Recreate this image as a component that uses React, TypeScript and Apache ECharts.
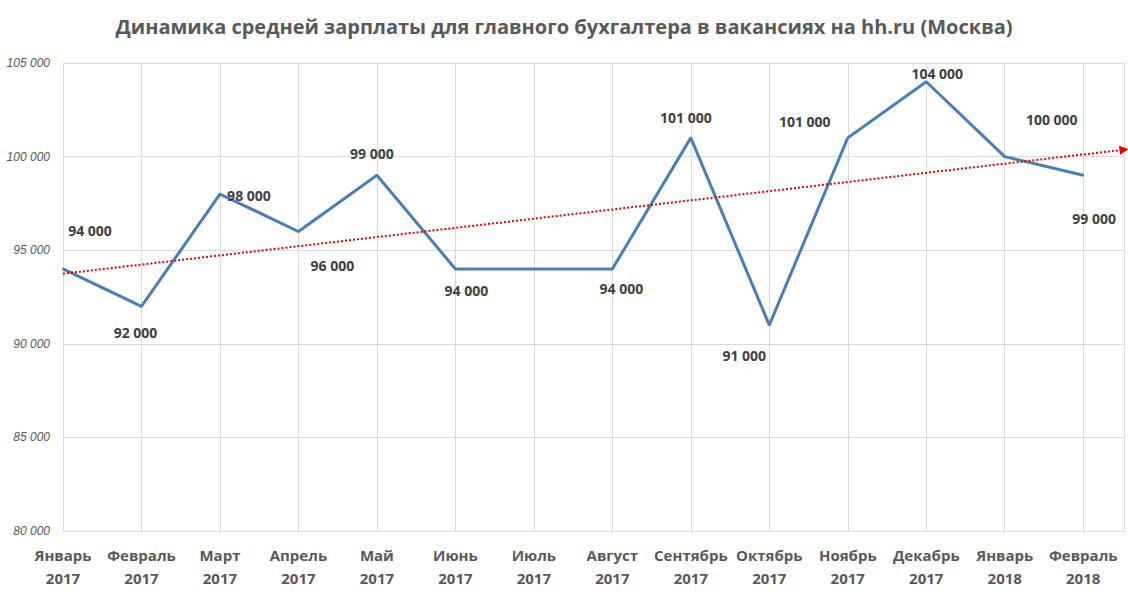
import React, { useEffect, useRef } from "react";
import * as echarts from "echarts";

const titleText = "Динамика средней зарплаты для главного бухгалтера в вакансиях на hh.ru (Москва)";
const months = ["Январь", "Февраль", "Март", "Апрель", "Май", "Июнь", "Июль", "Август", "Сентябрь", "Октябрь", "Ноябрь", "Декабрь", "Январь", "Февраль"];
const years = ["2017", "2017", "2017", "2017", "2017", "2017", "2017", "2017", "2017", "2017", "2017", "2017", "2018", "2018"];
const salaries = [94000, 92000, 98000, 96000, 99000, 94000, 94000, 94000, 101000, 91000, 101000, 104000, 100000, 99000];
const showLabel = [true, true, true, true, true, true, false, true, true, true, true, true, true, true];
const yMin = 80000;
const yMax = 105000;
const yStep = 5000;
const trendForward = 0.52; // periods of forward forecast of the trend line

// label placement (style only): pixel offsets from the point
const labelOffsets: number[][] = [
  [27, -38], [-6, 26], [29, 1], [34, 34], [-5, -22], [11, 22], [0, 0],
  [9, 20], [-5, -20], [-25, 30], [-43, -16], [11, -8], [47, -37], [11, 43],
];

const fmt = (v: number) => String(Math.round(v)).replace(/\B(?=(\d{3})+(?!\d))/g, " ");

function linearTrend(vals: number[]) {
  const n = vals.length;
  let sx = 0, sy = 0, sxy = 0, sxx = 0;
  vals.forEach((v, i) => { sx += i; sy += v; sxy += i * v; sxx += i * i; });
  const slope = (n * sxy - sx * sy) / (n * sxx - sx * sx);
  const icpt = (sy - slope * sx) / n;
  return { slope, icpt };
}

export default function App() {
  const ref = useRef<HTMLDivElement>(null);
  useEffect(() => {
    if (!ref.current) return;
    const chart = echarts.init(ref.current, null, { renderer: "svg" });
    const n = salaries.length;
    const xMax = n - 1 + trendForward;
    const { slope, icpt } = linearTrend(salaries);
    const lineColor = "#4A7EBB";
    const gridColor = "#D9D9D9";

    chart.setOption({
      animation: false,
      backgroundColor: "#FFFFFF",
      title: {
        text: titleText,
        left: "center",
        top: 11,
        textStyle: { fontFamily: "Open Sans", fontWeight: "bold", fontSize: 20, color: "#595959" },
      },
      grid: { left: 63, right: 4, top: 63, bottom: 71, containLabel: false },
      xAxis: {
        type: "value",
        min: 0,
        max: xMax,
        interval: 1,
        axisLine: { show: true, lineStyle: { color: gridColor, width: 1 } },
        axisTick: { show: false },
        splitLine: { show: true, lineStyle: { color: gridColor, width: 1 } },
        axisLabel: {
          margin: 12,
          fontFamily: "Open Sans",
          fontWeight: "bold",
          fontSize: 15,
          lineHeight: 23,
          color: "#595959",
          showMaxLabel: false,
          formatter: (v: number) => {
            const i = Math.round(v);
            if (Math.abs(v - i) > 1e-6 || i < 0 || i >= n) return "";
            return months[i] + "\n" + years[i];
          },
        },
      },
      yAxis: {
        type: "value",
        min: yMin,
        max: yMax,
        interval: yStep,
        axisLine: { show: false },
        axisTick: { show: false },
        splitLine: { show: true, lineStyle: { color: gridColor, width: 1 } },
        axisLabel: {
          margin: 13,
          fontFamily: "Liberation Sans",
          fontStyle: "italic",
          fontSize: 12,
          color: "#595959",
          formatter: (v: number) => fmt(v),
        },
      },
      series: [
        {
          type: "line",
          data: salaries.map((v, i) => ({
            value: [i, v],
            label: {
              show: showLabel[i],
              position: "inside",
              offset: labelOffsets[i],
              align: "center",
              verticalAlign: "middle",
              formatter: fmt(v),
              fontFamily: "Open Sans",
              fontWeight: "bold",
              fontSize: 14,
              color: "#404040",
            },
          })),
          symbol: "circle",
          symbolSize: 2,
          showSymbol: true,
          itemStyle: { color: lineColor },
          lineStyle: { color: lineColor, width: 3 },
          silent: true,
          z: 3,
          markLine: {
            silent: true,
            symbol: ["none", "triangle"],
            symbolSize: [9, 9],
            label: { show: false },
            lineStyle: { type: "dotted", color: "#E00000", width: 2 },
            data: [
              [
                { coord: [0, icpt] },
                { coord: [xMax, icpt + slope * xMax] },
              ],
            ],
            z: 4,
          },
        },
      ],
    });
    return () => chart.dispose();
  }, []);
  return (
    <div
      ref={ref}
      style={{ position: "fixed", left: 0, top: 0, width: 1128, height: 602, background: "#fff" }}
    />
  );
}
